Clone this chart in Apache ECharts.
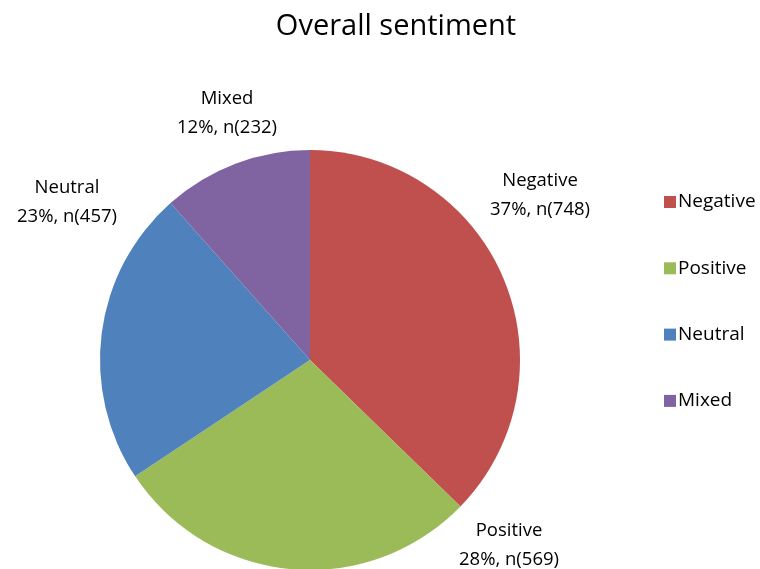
<!DOCTYPE html>
<html>
<head>
<meta charset="utf-8">
<script src="https://cdn.jsdelivr.net/npm/echarts@6/dist/echarts.min.js"></script>
<style>html,body{margin:0;padding:0;background:#fff}#c{width:760px;height:569px}</style>
</head>
<body>
<div id="c"></div>
<script>
const categories = ['Negative', 'Positive', 'Neutral', 'Mixed'];
const counts = [748, 569, 457, 232];
const colors = ['#C0504D', '#9BBB59', '#4F81BD', '#8064A2'];
// label anchor points (centre of each two-line label), as placed in the reference
const labelAnchors = [[540, 195], [509, 545], [67, 202], [227, 113]];

const chart = echarts.init(document.getElementById('c'));
const FONT = '"Open Sans", "Liberation Sans", sans-serif';
chart.setOption({
  animation: false,
  title: {
    text: 'Overall sentiment',
    left: 391, top: 7, textAlign: 'center',
    textStyle: { fontFamily: FONT, fontSize: 29, fontWeight: 'normal', color: '#000' }
  },
  legend: {
    orient: 'vertical', left: 659, top: 187,
    itemWidth: 12, itemHeight: 12, itemGap: 46.3,
    icon: 'rect',
    textStyle: { fontFamily: FONT, fontSize: 19, lineHeight: 20, color: '#000', padding: [0, 0, 0, -3] },
    data: categories
  },
  series: [{
    type: 'pie',
    center: [310, 360],
    radius: 210,
    startAngle: 90,
    clockwise: true,
    data: categories.map((n, i) => ({ name: n, value: counts[i], itemStyle: { color: colors[i] } })),
    label: {
      show: true, position: 'outside', overflow: 'none', width: 200,
      fontFamily: FONT, fontSize: 18.5, color: '#000', lineHeight: 29, align: 'center',
      formatter: p => p.name + '\n' + Math.round(p.percent) + '%, n(' + p.value + ')'
    },
    labelLine: { show: false },
    labelLayout: p => ({
      x: labelAnchors[p.dataIndex][0],
      y: labelAnchors[p.dataIndex][1],
      align: 'center',
      verticalAlign: 'middle',
      hideOverlap: false
    }),
    emphasis: { disabled: true }
  }]
});
</script>
</body>
</html>
